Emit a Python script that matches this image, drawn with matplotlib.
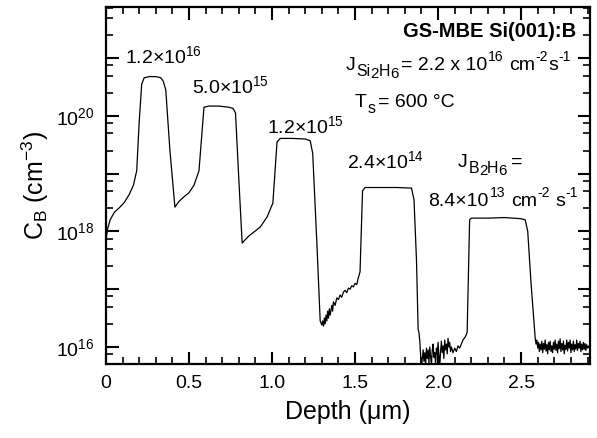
import numpy as np
import matplotlib
matplotlib.use("Agg")
import matplotlib.pyplot as plt
from matplotlib.ticker import MultipleLocator, FixedLocator, FuncFormatter, NullFormatter

plt.rcParams['font.family'] = ['Liberation Sans', 'DejaVu Sans']
plt.rcParams['mathtext.fontset'] = 'custom'
plt.rcParams['mathtext.rm'] = 'Liberation Sans'
plt.rcParams['mathtext.it'] = 'Liberation Sans:italic'
plt.rcParams['mathtext.bf'] = 'Liberation Sans:bold'

# SIMS depth profile: depth (um) and log10 of boron concentration (cm^-3)
depth = [0.00, 0.01, 0.025, 0.05, 0.08, 0.11, 0.14, 0.165, 0.185, 0.20, 0.215, 0.23, 0.26, 0.30, 0.33, 0.345,
         0.36, 0.385, 0.415, 0.44, 0.47, 0.50, 0.53, 0.56, 0.575, 0.59, 0.62, 0.68, 0.74, 0.765, 0.78, 0.80,
         0.82, 0.86, 0.90, 0.93, 0.97, 1.005, 1.03, 1.05, 1.12, 1.20, 1.23, 1.245, 1.27, 1.29, 1.30,
         1.305, 1.31, 1.315, 1.32, 1.325, 1.33, 1.335, 1.34, 1.345, 1.35, 1.36, 1.365, 1.37, 1.38, 1.39, 1.40,
         1.41, 1.42, 1.43, 1.44, 1.45, 1.46, 1.47, 1.48, 1.49, 1.50, 1.51, 1.52, 1.53,
         1.545, 1.56, 1.65, 1.75, 1.84, 1.855, 1.87, 1.88,
         1.885, 1.89, 1.895, 1.90, 1.905, 1.91, 1.915, 1.92, 1.925, 1.93, 1.935, 1.94, 1.945, 1.95, 1.955,
         1.96, 1.965, 1.97, 1.975, 1.98, 1.985, 1.99, 1.995, 2.00, 2.005, 2.01, 2.015, 2.02, 2.025, 2.03,
         2.035, 2.04, 2.045, 2.05, 2.055, 2.06, 2.065, 2.07, 2.075, 2.08, 2.09, 2.10, 2.11, 2.12, 2.13,
         2.14, 2.15, 2.165, 2.175,
         2.19, 2.20, 2.30, 2.40, 2.50, 2.525, 2.54, 2.56, 2.585,
         2.59, 2.595, 2.60, 2.605, 2.61, 2.615, 2.62, 2.625, 2.63, 2.635, 2.64, 2.645, 2.65, 2.655, 2.66,
         2.665, 2.67, 2.675, 2.68, 2.685, 2.69, 2.695, 2.70, 2.705, 2.71, 2.715, 2.72, 2.725, 2.73, 2.735,
         2.74, 2.745, 2.75, 2.755, 2.76, 2.765, 2.77, 2.775, 2.78, 2.785, 2.79, 2.795, 2.80, 2.805, 2.81,
         2.815, 2.82, 2.825, 2.83, 2.835, 2.84, 2.845, 2.85, 2.855, 2.86, 2.865, 2.87, 2.875, 2.88, 2.885,
         2.89, 2.895, 2.90, 2.91]
log_cb = [17.85, 18.05, 18.20, 18.33, 18.41, 18.50, 18.64, 18.80, 19.05, 19.90, 20.55, 20.66, 20.68, 20.68, 20.66, 20.60,
          20.45, 19.40, 18.42, 18.52, 18.60, 18.67, 18.80, 19.05, 19.60, 20.15, 20.17, 20.17, 20.15, 20.13, 20.05, 18.90,
          17.80, 17.92, 18.01, 18.08, 18.25, 18.49, 19.55, 19.61, 19.61, 19.60, 19.57, 19.35, 17.80, 16.45, 16.38,
          16.45, 16.36, 16.50, 16.40, 16.55, 16.45, 16.62, 16.50, 16.66, 16.55, 16.72, 16.62, 16.78, 16.72, 16.85, 16.82,
          16.90, 16.86, 16.95, 16.98, 16.94, 17.02, 17.00, 17.06, 17.04, 17.10, 17.08, 17.20, 17.30,
          18.70, 18.76, 18.76, 18.76, 18.75, 18.55, 17.50, 16.30,
          16.25, 16.10, 15.85, 15.65, 15.80, 15.95, 15.75, 15.90, 15.70, 15.98, 15.80, 15.95, 15.72, 16.00, 15.85,
          15.68, 15.95, 16.05, 15.82, 15.90, 15.70, 15.98, 15.88, 16.08, 15.85, 15.65, 15.92, 16.10, 15.90, 16.02,
          15.80, 16.12, 15.95, 16.05, 15.88, 16.15, 16.00, 16.08, 15.92, 16.00, 15.90, 15.98, 15.92, 16.02, 15.98,
          16.05, 16.12, 16.18, 16.25,
          18.20, 18.23, 18.23, 18.24, 18.22, 18.20, 18.00, 17.10, 16.15,
          16.05, 16.12, 15.98, 16.08, 15.92, 16.05, 15.95, 16.10, 15.90, 16.06, 15.96, 16.12, 15.93, 16.04, 15.88,
          16.08, 15.95, 16.10, 15.92, 16.02, 15.90, 16.08, 15.96, 16.12, 15.94, 16.05, 15.90, 16.10, 15.97, 16.14,
          15.92, 16.06, 15.95, 16.10, 15.88, 16.03, 15.96, 16.12, 15.93, 16.08, 15.98, 16.12, 15.90, 16.05, 15.95,
          16.10, 15.92, 16.04, 15.96, 16.12, 15.94, 16.06, 15.98, 16.10, 15.92, 16.05, 15.95, 16.08, 15.96, 16.06,
          15.94, 16.04, 15.98, 16.02]

pulse_labels = [r'1.2$\times$10$^{16}$', r'5.0$\times$10$^{15}$', r'1.2$\times$10$^{15}$', r'2.4$\times$10$^{14}$']
pulse_label_x = [0.114, 0.518, 0.97, 1.452]
pulse_label_logy = [20.92, 20.40, 19.71, 19.10]

xticks = [0, 0.5, 1.0, 1.5, 2.0, 2.5]
xticklabels = ['0', '0.5', '1.0', '1.5', '2.0', '2.5']
ydecades = [16, 17, 18, 19, 20, 21]
ylabeled = [16, 18, 20]

conc = 10.0 ** np.array(log_cb)

fig = plt.figure(figsize=(5.97, 4.38), dpi=100)
ax = fig.add_axes([106/597, 1 - 363.7/438, (590 - 106)/597, (363.7 - 6.7)/438])
ax.plot(depth, conc, color='black', lw=0.9)
ax.set_yscale('log')
ax.set_xlim(0, 2.915)
ax.set_ylim(10**15.71, 10**21.89)

ax.xaxis.set_major_locator(FixedLocator(xticks))
ax.set_xticklabels(xticklabels)
ax.xaxis.set_minor_locator(MultipleLocator(0.1))
ax.yaxis.set_major_locator(FixedLocator([10.0**e for e in ydecades]))
minors = [m * 10.0**e for e in [15] + ydecades for m in (2.5, 5.0, 7.5)]
minors = [v for v in minors if 10**15.71 < v < 10**21.89]
ax.yaxis.set_minor_locator(FixedLocator(minors))
ax.yaxis.set_minor_formatter(NullFormatter())

def yfmt(v, pos):
    e = int(round(np.log10(v)))
    return r'10$^{%d}$' % e if e in ylabeled else ''
ax.yaxis.set_major_formatter(FuncFormatter(yfmt))

ax.tick_params(which='both', direction='in', top=True, right=True, width=1.5, labelsize=14)
ax.tick_params(which='major', length=9, pad=8)
ax.tick_params(which='minor', length=5, width=1.2)
for s in ax.spines.values():
    s.set_linewidth(1.6)

ax.set_xlabel('Depth (\u03bcm)', fontsize=18, labelpad=6)
ax.set_ylabel(r'C$_\mathrm{B}$ (cm$^{-3}$)', fontsize=18, labelpad=4)

for lab, x, ly in zip(pulse_labels, pulse_label_x, pulse_label_logy):
    ax.text(x, 10**ly, lab, fontsize=14, ha='left', va='baseline')

ax.text(2.83, 10**21.37, 'GS-MBE Si(001):B', fontsize=14.5, fontweight='bold', ha='right', va='baseline')

renderer = fig.canvas.get_renderer()

def rich(x, y, pieces, size):
    """pieces: (text, scale, shift_em, gap_before_em)"""
    off = 0.0
    for txt, sc, sh, gap in pieces:
        off += gap * size
        t = ax.annotate(txt, xy=(x, y), xycoords='data', xytext=(off, sh * size),
                        textcoords='offset points', fontsize=size * sc, ha='left', va='baseline')
        bb = t.get_window_extent(renderer)
        off += bb.width * 72.0 / fig.dpi

SUB, SUBN, SUP = -0.32, -0.45, 0.45
rich(1.443, 10**20.80, [('J', 1, 0, 0), ('Si', 0.82, SUB, 0.03), ('2', 0.78, SUBN, 0.0),
                        ('H', 0.82, SUB, 0.0), ('6', 0.78, SUBN, 0.0),
                        ('= 2.2 x 10', 1, 0, 0.12), ('16', 0.72, SUP, 0.05),
                        ('cm', 1, 0, 0.28), ('-2', 0.72, SUP, 0.02), ('s', 1, 0, 0.02),
                        ('-1', 0.72, SUP, 0.02)], 14)
rich(1.50, 10**20.16, [('T', 1, 0, 0), ('s', 0.82, SUB, 0.03), ('= 600 \u00b0C', 1, 0, 0.15)], 14)
rich(2.12, 10**19.12, [('J', 1, 0, 0), ('B', 0.82, SUB, 0.03), ('2', 0.78, SUBN, 0.0),
                       ('H', 0.82, SUB, 0.0), ('6', 0.78, SUBN, 0.0), ('=', 1, 0, 0.22)], 14)
rich(1.94, 10**18.44, [('8.4\u00d710', 1, 0, 0), ('13', 0.72, SUP, 0.05), ('cm', 1, 0, 0.3),
                       ('-2', 0.72, SUP, 0.02), ('s', 1, 0, 0.3), ('-1', 0.72, SUP, 0.02)], 14)

fig.savefig('out.png', dpi=100)
